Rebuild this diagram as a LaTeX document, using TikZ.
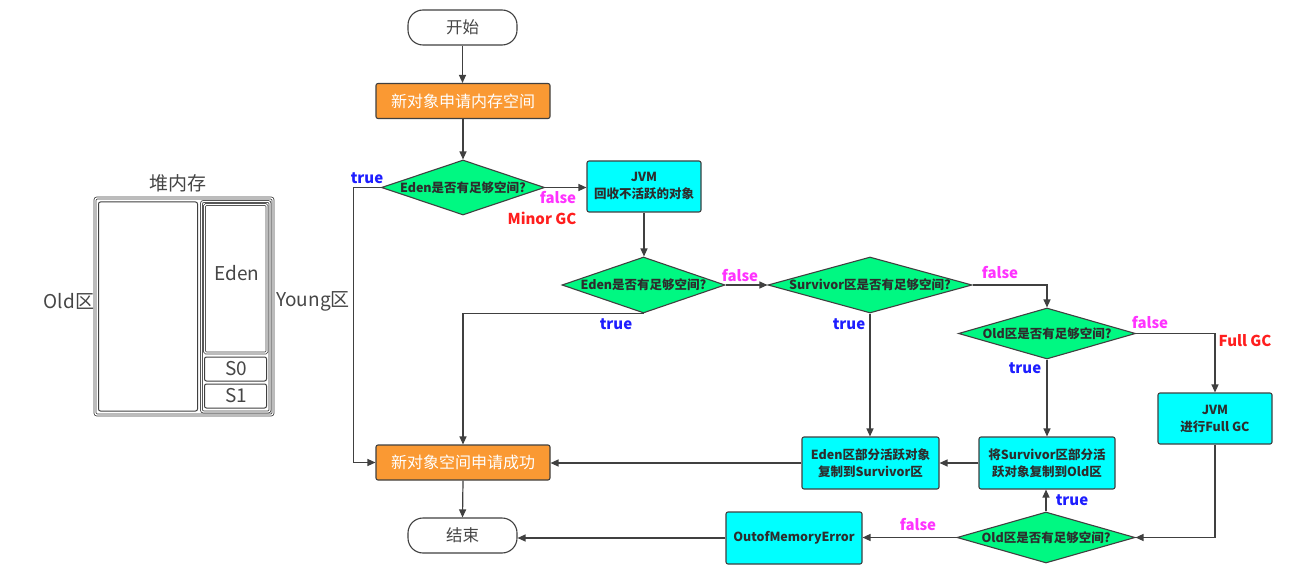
\documentclass[tikz,border=0pt]{standalone}
\usepackage{fontspec}
\setmainfont{Noto Sans CJK SC}
\usetikzlibrary{shapes.geometric,arrows.meta}
\definecolor{dgreen}{RGB}{0,248,130}
\definecolor{dcyan}{RGB}{0,255,255}
\definecolor{dorange}{RGB}{250,153,51}
\definecolor{bord}{RGB}{64,64,64}
\definecolor{ltxt}{RGB}{45,45,45}
\definecolor{htxt}{RGB}{70,70,70}
\definecolor{lblue}{RGB}{30,30,255}
\definecolor{lmag}{RGB}{255,51,255}
\definecolor{lred}{RGB}{255,30,30}
\tikzset{
  term/.style={draw=bord,line width=1.1pt,fill=white,rounded corners=15pt,minimum width=109pt,minimum height=35pt,inner sep=0pt,text=htxt,font=\fontsize{16.5}{19}\selectfont},
  obox/.style={draw=bord,line width=1.1pt,fill=dorange,rounded corners=2pt,minimum width=174pt,minimum height=35pt,inner sep=0pt,text=white,font=\fontsize{16}{19}\selectfont},
  cbox/.style={draw=bord,line width=1.1pt,fill=dcyan,rounded corners=2pt,minimum height=51pt,inner sep=0pt,text=ltxt,align=center,font=\bfseries\fontsize{12.5}{17}\selectfont},
  dia/.style={draw=bord,line width=1.1pt,fill=dgreen,diamond,aspect=1,inner sep=0pt,text=ltxt,font=\bfseries\fontsize{12.5}{15}\selectfont},
  conn/.style={draw=bord,line width=1.2pt,-{Triangle[length=8pt,width=7pt]}},
  lab/.style={inner sep=0pt,font=\bfseries\fontsize{15}{17}\selectfont},
  tlab/.style={lab,text=lblue},
  flab/.style={lab,text=lmag},
  glab/.style={lab,text=lred},
  hline/.style={draw=bord,line width=0.8pt,double=white,double distance=1.2pt},
  sline/.style={draw=bord,line width=1pt},
  htext/.style={inner sep=0pt,text=htxt,font=\fontsize{19}{22}\selectfont}
}
\begin{document}
\begin{tikzpicture}[x=1pt,y=-1pt]
\useasboundingbox[fill=white] (0,0) rectangle (1312,580);
% heap diagram
\draw[hline,rounded corners=2pt] (95,198) rectangle (273,415);
\draw[sline,rounded corners=2pt] (98.5,202) rectangle (197.5,411);
\draw[hline,rounded corners=2pt] (201.5,201.5) rectangle (270,412);
\draw[hline,rounded corners=1.5pt] (204.5,204.5) rectangle (267,353);
\draw[sline,rounded corners=2pt] (204.5,357) rectangle (266.5,381);
\draw[sline,rounded corners=2pt] (204.5,384) rectangle (266.5,408);
\node[htext] (heap) at (178,183) {堆内存};
\node[htext] (old) at (69,301) {Old区};
\node[htext] (young) at (313,301) {Young区};
\node[htext] (eden) at (237,273) {Eden};
\node[htext] (s0) at (236,368.5) {S0};
\node[htext] (s1) at (236,396) {S1};
% flow nodes
\node[term] (start) at (462.5,27.5) {开始};
\node[obox] (new1) at (463,101) {新对象申请内存空间};
\node[dia,minimum width=163pt,minimum height=55pt] (d1) at (463,187.5) {\makebox[0pt]{Eden是否有足够空间?}};
\node[cbox,minimum width=114pt] (jvm1) at (644,186.5) {JVM\\回收不活跃的对象};
\node[dia,minimum width=163pt,minimum height=56pt] (d2) at (643.5,285) {\makebox[0pt]{Eden是否有足够空间?}};
\node[dia,minimum width=204pt,minimum height=56pt] (d3) at (870,285) {\makebox[0pt]{Survivor区是否有足够空间?}};
\node[dia,minimum width=177pt,minimum height=51pt] (d4) at (1047,333.5) {\makebox[0pt]{Old区是否有足够空间?}};
\node[cbox,minimum width=114pt] (jvm2) at (1215,418.5) {JVM\\进行Full GC};
\node[cbox,minimum width=136pt,minimum height=52pt] (surv) at (1047,463) {将Survivor区部分活\\跃对象复制到Old区};
\node[cbox,minimum width=137pt,minimum height=52pt] (edenb) at (870.5,463) {Eden区部分活跃对象\\复制到Survivor区};
\node[obox] (succ) at (463,462.5) {新对象空间申请成功};
\node[dia,minimum width=178pt,minimum height=51pt] (d5) at (1046,537.5) {\makebox[0pt]{Old区是否有足够空间?}};
\node[cbox,minimum width=136pt,minimum height=52pt] (oom) at (794,538) {OutofMemoryError};
\node[term] (end) at (462.5,535.5) {结束};
% connectors
\draw[conn] (start.south) -- (start.south |- new1.north);
\draw[conn] (new1.south) -- (new1.south |- d1.north);
\draw[conn] (d1.east) -- (d1.east -| jvm1.west);
\draw[conn] (d1.west) -- ++(-27.5,0) |- (succ.west);
\draw[conn] (jvm1.south) -- (jvm1.south |- d2.north);
\draw[conn] (d2.east) -- (d3.west);
\draw[conn] (d2.south) -| (succ.north);
\draw[conn] (d3.south) -- (d3.south |- edenb.north);
\draw[conn] (d3.east) -| (d4.north);
\draw[conn] (d4.east) -| (jvm2.north);
\draw[conn] (d4.south) -- (surv.north);
\draw[conn] (jvm2.south) |- (d5.east);
\draw[conn] (d5.north) -- (d5.north |- surv.south);
\draw[conn] (d5.west) -- (d5.west -| oom.east);
\draw[conn] (oom.west) -- (oom.west -| end.east);
\draw[conn] (surv.west) -- (surv.west -| edenb.east);
\draw[conn] (edenb.west) -- (edenb.west -| succ.east);
\draw[conn] (succ.south) -- (end.north);
% labels
\node[tlab] (t1) at (367,178) {true};
\node[flab] (f1) at (558,198) {false};
\node[glab] (g1) at (542,218) {Minor GC};
\node[flab] (f2) at (740,276) {false};
\node[tlab] (t2) at (616,324) {true};
\node[tlab] (t3) at (849,324) {true};
\node[flab] (f3) at (1000,272.5) {false};
\node[flab] (f4) at (1150,323) {false};
\node[glab] (g2) at (1245,341) {Full GC};
\node[tlab] (t4) at (1025,368) {true};
\node[tlab] (t5) at (1072,500.5) {true};
\node[flab] (f5) at (918,525) {false};
\end{tikzpicture}
\end{document}
